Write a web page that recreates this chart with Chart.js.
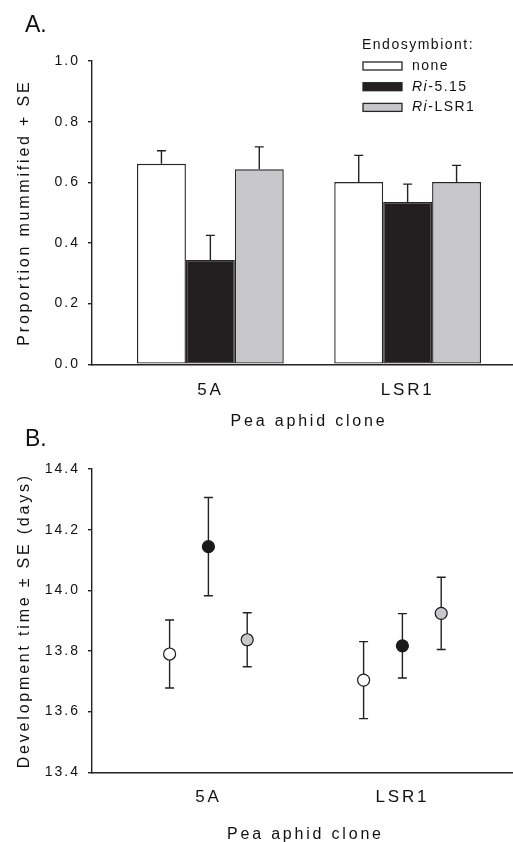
<!DOCTYPE html>
<html>
<head>
<meta charset="utf-8">
<script src="https://cdn.jsdelivr.net/npm/chart.js@4.4.0/dist/chart.umd.min.js"></script>
<style>
  html, body { margin: 0; padding: 0; background: #fff; overflow: hidden; }
  #wrap { position: relative; width: 513px; height: 842px; overflow: hidden; }
  canvas { position: absolute; left: 0; }
  #mumChart { top: 0; }
  #devChart { top: 420px; }
</style>
</head>
<body>
<div id="wrap">
  <canvas id="mumChart" width="526" height="440"></canvas>
  <canvas id="devChart" width="526" height="430"></canvas>
</div>
<script>
const clones = ['5A', 'LSR1'];
const symbionts = ['none', 'Ri-5.15', 'Ri-LSR1'];
const symbiontColors = ['#ffffff', '#231f20', '#c8c8ca'];

// Panel A: proportion mummified (mean, SE) per clone
const mumNone = [0.661, 0.601];
const mumRi515 = [0.344, 0.535];
const mumRiLSR1 = [0.643, 0.601];
const mumNoneSE = [0.043, 0.088];
const mumRi515SE = [0.081, 0.059];
const mumRiLSR1SE = [0.074, 0.055];
const mumTicks = [0, 0.2, 0.4, 0.6, 0.8, 1.0];

// Panel B: development time in days (mean, SE)
const devNone = [13.790, 13.704];
const devRi515 = [14.144, 13.817];
const devRiLSR1 = [13.837, 13.924];
const devNoneSE = [0.112, 0.127];
const devRi515SE = [0.162, 0.106];
const devRiLSR1SE = [0.089, 0.119];
const devTicks = [13.4, 13.6, 13.8, 14.0, 14.2, 14.4];

const FONT = '"Liberation Sans", Arial, sans-serif';
Chart.defaults.font.family = FONT;
Chart.defaults.color = '#111';

const dodge = 0.2; // horizontal spread of points in panel B

function drawErrors(chart, opts) {
    const ctx = chart.ctx, y = chart.scales.y;
    ctx.save();
    ctx.strokeStyle = '#222';
    ctx.lineWidth = 1.4;
    chart.data.datasets.forEach((ds, i) => {
        chart.getDatasetMeta(i).data.forEach((el, j) => {
            const v = ds.data[j].y, se = ds.se[j];
            const yTop = y.getPixelForValue(v + se);
            const yBot = y.getPixelForValue(opts.upperOnly ? v : v - se);
            ctx.beginPath();
            ctx.moveTo(el.x, yTop);
            ctx.lineTo(el.x, yBot);
            ctx.moveTo(el.x - opts.cap, yTop);
            ctx.lineTo(el.x + opts.cap, yTop);
            if (!opts.upperOnly) {
                ctx.moveTo(el.x - opts.cap, yBot);
                ctx.lineTo(el.x + opts.cap, yBot);
            }
            ctx.stroke();
        });
    });
    ctx.restore();
}

const errorBars = {
    id: 'errorBars',
    beforeDatasetsDraw(chart, args, opts) { if (opts.behind) drawErrors(chart, opts); },
    afterDatasetsDraw(chart, args, opts) { if (!opts.behind) drawErrors(chart, opts); }
};

// SigmaPlot-style wide text; y tick labels a bit tighter
const spacing = {
    id: 'spacing',
    beforeDraw(chart, args, opts) {
        chart.ctx.letterSpacing = opts.px;
        const y = chart.scales.y;
        if (!y._spaced) {
            const orig = y.drawLabels;
            y.drawLabels = function (area) {
                this.ctx.letterSpacing = opts.tickPx;
                orig.call(this, area);
                this.ctx.letterSpacing = opts.px;
            };
            y._spaced = true;
        }
    }
};

const panelText = {
    id: 'panelText',
    afterDraw(chart, args, opts) {
        const ctx = chart.ctx;
        ctx.save();
        ctx.letterSpacing = '0px';
        ctx.fillStyle = '#111';
        ctx.textBaseline = 'alphabetic';
        ctx.font = '23px ' + FONT;
        ctx.fillText(opts.letter, 25, opts.letterY);

        if (opts.legend) {
            ctx.letterSpacing = '1.5px';
            ctx.textBaseline = 'middle';
            ctx.font = '14px ' + FONT;
            ctx.fillText('Endosymbiont:', 362, 45);
            chart.data.datasets.forEach((ds, i) => {
                const cy = 66 + i * 20.7;
                ctx.fillStyle = ds.backgroundColor;
                ctx.fillRect(363, cy - 4, 39, 8);
                ctx.strokeStyle = '#262626';
                ctx.lineWidth = 1.3;
                ctx.strokeRect(363, cy - 4, 39, 8);
                ctx.fillStyle = '#111';
                const parts = ds.label.split('-');
                let x = 412;
                if (parts.length > 1) {
                    ctx.font = 'italic 14px ' + FONT;
                    ctx.fillText(parts[0], x, cy);
                    x += ctx.measureText(parts[0]).width;
                    ctx.font = '14px ' + FONT;
                    ctx.fillText('-' + parts.slice(1).join('-'), x, cy);
                } else {
                    ctx.font = '14px ' + FONT;
                    ctx.fillText(ds.label, x, cy);
                }
            });
        }
        ctx.restore();
    }
};

function xScale(h, tickPad, titlePad) {
    return {
        type: 'linear',
        min: 0.4,
        max: 2.6,
        offset: false,
        afterBuildTicks: s => { s.ticks = clones.map((c, i) => ({ value: i + 1 })); },
        afterFit: s => { s.height = h; },
        grid: { display: false, drawTicks: false },
        border: { display: true, color: '#222', width: 1.4 },
        ticks: { padding: tickPad, maxRotation: 0, font: { size: 17 }, callback: v => clones[v - 1] },
        title: { display: true, text: 'Pea aphid clone', font: { size: 16 }, padding: { top: 0, bottom: titlePad } }
    };
}

function yScale(tickVals, title) {
    return {
        min: tickVals[0],
        max: tickVals[tickVals.length - 1],
        afterBuildTicks: s => { s.ticks = tickVals.map(v => ({ value: v })); },
        afterFit: s => { s.width = 92; },
        grid: { drawOnChartArea: false, drawTicks: true, tickLength: 4, color: '#222', lineWidth: 1.4 },
        border: { display: true, color: '#222', width: 1.4 },
        ticks: { padding: 8, font: { size: 14 }, callback: v => v.toFixed(1) },
        title: { display: true, text: title, font: { size: 16 }, padding: { top: 15, bottom: 0 } }
    };
}

const toPoints = (vals, shift) => vals.map((v, i) => ({ x: i + 1 + shift, y: v }));

const mumChart = new Chart(document.getElementById('mumChart'), {
    type: 'bar',
    data: {
        datasets: [
            { label: symbionts[0], data: toPoints(mumNone, 0), se: mumNoneSE, backgroundColor: symbiontColors[0] },
            { label: symbionts[1], data: toPoints(mumRi515, 0), se: mumRi515SE, backgroundColor: symbiontColors[1] },
            { label: symbionts[2], data: toPoints(mumRiLSR1, 0), se: mumRiLSR1SE, backgroundColor: symbiontColors[2] }
        ]
    },
    options: {
        responsive: false,
        animation: false,
        devicePixelRatio: 1,
        layout: { padding: { top: 61, left: 0, right: 0, bottom: 0 } },
        categoryPercentage: 0.744,
        barPercentage: 1,
        borderWidth: 1.4,
        borderColor: '#262626',
        borderSkipped: false,
        plugins: {
            legend: { display: false },
            tooltip: { enabled: false },
            errorBars: { upperOnly: true, cap: 4.5, behind: false },
            spacing: { px: '2.8px', tickPx: '2px' },
            panelText: { letter: 'A.', letterY: 32, legend: true }
        },
        scales: {
            x: xScale(75.7, 16, 8.4),
            y: yScale(mumTicks, 'Proportion mummified + SE')
        }
    },
    plugins: [spacing, errorBars, panelText]
});

const devChart = new Chart(document.getElementById('devChart'), {
    type: 'scatter',
    data: {
        datasets: [
            { label: symbionts[0], data: toPoints(devNone, -dodge), se: devNoneSE, pointBackgroundColor: symbiontColors[0] },
            { label: symbionts[1], data: toPoints(devRi515, 0), se: devRi515SE, pointBackgroundColor: '#1a1a1a' },
            { label: symbionts[2], data: toPoints(devRiLSR1, dodge), se: devRiLSR1SE, pointBackgroundColor: symbiontColors[2] }
        ]
    },
    options: {
        responsive: false,
        animation: false,
        devicePixelRatio: 1,
        layout: { padding: { top: 49, left: 0, right: 0, bottom: 0 } },
        elements: { point: { radius: 6, borderWidth: 1.2, borderColor: '#1a1a1a' } },
        plugins: {
            legend: { display: false },
            tooltip: { enabled: false },
            errorBars: { upperOnly: false, cap: 4.5, behind: true },
            spacing: { px: '2.8px', tickPx: '2px' },
            panelText: { letter: 'B.', letterY: 26, legend: false }
        },
        scales: {
            x: xScale(77.7, 15, 5.6),
            y: yScale(devTicks, 'Development time \u00b1 SE (days)')
        }
    },
    plugins: [spacing, errorBars, panelText]
});
</script>
</body>
</html>
